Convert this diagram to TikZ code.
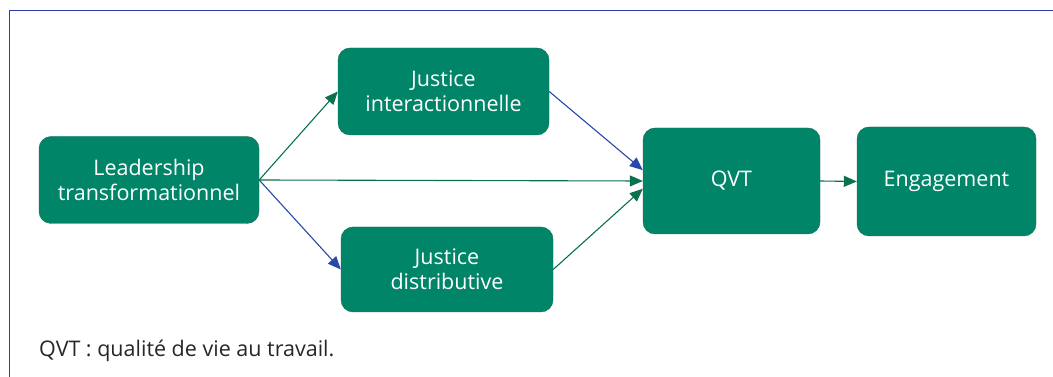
\documentclass[tikz,border=0pt]{standalone}
\usepackage{fontspec}
\setmainfont{Open Sans}
\usetikzlibrary{arrows.meta}
\definecolor{boxgreen}{RGB}{0,133,104}
\definecolor{boxedge}{RGB}{20,110,80}
\definecolor{arrowgreen}{RGB}{10,112,78}
\definecolor{arrowblue}{RGB}{40,72,170}
\definecolor{framecol}{RGB}{50,60,170}
\tikzset{
    factor/.style = {
        draw = boxedge,
        fill = boxgreen,
        text = white,
        rounded corners = 12pt,
        align = center,
        font = \fontsize{21.5}{25}\selectfont,
        inner sep = 0pt,
        },
    green link/.style = {
        draw = arrowgreen,
        line width = 1.1pt,
        -{Triangle[length=13pt,width=11pt]},
        },
    blue link/.style = {
        draw = arrowblue,
        line width = 1.1pt,
        -{Triangle[length=13pt,width=11pt]},
        },
}
\begin{document}
\begin{tikzpicture}[x=1pt,y=1pt]
            \useasboundingbox (0,0) rectangle (1053,377);
            \draw[framecol, line width=0.8pt] (1053,367) -- (9,367) -- (9,0);

            \node[factor, minimum width=220pt, minimum height=87pt] (lead) at (149,197) {Leadership\\transformationnel};
            \node[factor, minimum width=211pt, minimum height=87pt] (jinter) at (443.5,285.5) {Justice\\interactionnelle};
            \node[factor, minimum width=212pt, minimum height=85pt] (jdist) at (447,107.5) {Justice\\distributive};
            \node[factor, minimum width=177pt, minimum height=106pt] (qvt) at (731.5,196) {QVT};
            \node[factor, minimum width=179pt, minimum height=109pt] (engage) at (946.5,195.5) {Engagement};

            \node[anchor=base west, inner sep=0pt, text=black!85, font=\fontsize{21.5}{25}\selectfont] (note) at (39,20) {QVT : qualité de vie au travail.};

            \path (lead.east) edge[green link] (jinter.west);
            \path (lead.east) edge[blue link] (jdist.west);
            \path (lead.east) edge[green link] (qvt.west);
            \path (jinter.east) edge[blue link] (qvt.173);
            \path (jdist.east) edge[green link] (qvt.185);
            \path (qvt.east) edge[green link] (engage.west);
\end{tikzpicture}
\end{document}
